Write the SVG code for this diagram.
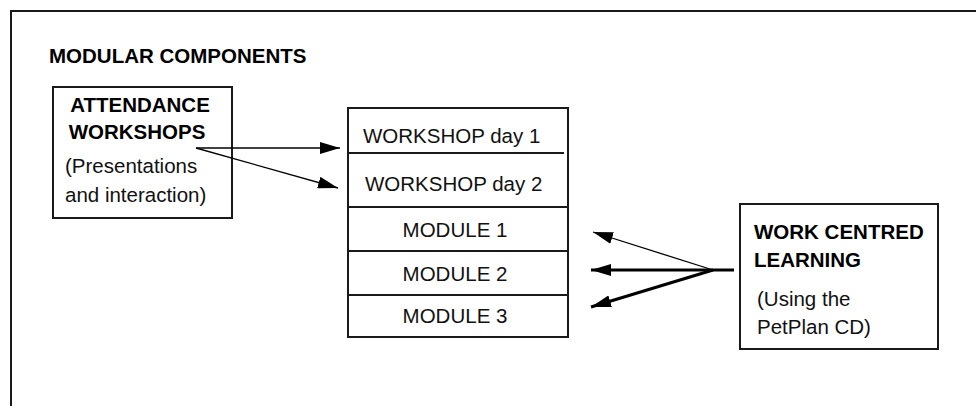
<svg xmlns="http://www.w3.org/2000/svg" width="976" height="406" viewBox="0 0 976 406">
<style>
  .box { fill: #fff; stroke: #1a1a1a; stroke-width: 2; }
  .ln { stroke: #1a1a1a; stroke-width: 2; fill: none; }
  .b { font-family: "Liberation Sans", Arial, sans-serif; font-weight: bold; font-size: 20.5px; fill: #000; }
  .r { font-family: "Liberation Sans", Arial, sans-serif; font-size: 20.5px; fill: #111; }
  .thin { stroke: #000; stroke-width: 1.3; fill: none; }
  .thick { stroke: #000; stroke-width: 3; fill: none; }
</style>
<defs>
  <marker id="ah" viewBox="0 0 20 12" refX="20" refY="6" markerWidth="20" markerHeight="12" markerUnits="userSpaceOnUse" orient="auto">
    <path d="M0,0 L20,6 L0,12 Z" fill="#000"/>
  </marker>
</defs>
<rect width="976" height="406" fill="#fff"/>
<g id="frame">
  <path class="ln" d="M11,406 V11 H976"/>
  <text class="b" x="49" y="63">MODULAR COMPONENTS</text>
</g>
<g id="attendance">
  <rect class="box" x="53" y="87" width="179" height="131"/>
  <text class="b" x="140" y="112" text-anchor="middle">ATTENDANCE</text>
  <text class="b" x="137" y="139" text-anchor="middle">WORKSHOPS</text>
  <text class="r" x="65" y="173">(Presentations</text>
  <text class="r" x="65" y="202">and interaction)</text>
</g>
<g id="stack">
  <rect class="box" x="348" y="108" width="220" height="229"/>
  <line class="ln" x1="348" y1="153" x2="564" y2="153"/>
  <line class="ln" x1="348" y1="207" x2="568" y2="207"/>
  <line class="ln" x1="348" y1="251" x2="568" y2="251"/>
  <line class="ln" x1="348" y1="295" x2="568" y2="295"/>
  <text class="r" x="363" y="143">WORKSHOP day 1</text>
  <text class="r" x="365" y="191">WORKSHOP day 2</text>
  <text class="r" x="455" y="237" text-anchor="middle">MODULE 1</text>
  <text class="r" x="455" y="281" text-anchor="middle">MODULE 2</text>
  <text class="r" x="455" y="323" text-anchor="middle">MODULE 3</text>
</g>
<g id="wcl">
  <rect class="box" x="740" y="204" width="198" height="145"/>
  <text class="b" x="754" y="239">WORK CENTRED</text>
  <text class="b" x="754" y="267">LEARNING</text>
  <text class="r" x="757" y="306">(Using the</text>
  <text class="r" x="757" y="334">PetPlan CD)</text>
</g>
<g id="connectors">
  <line class="thin" x1="196" y1="148" x2="340" y2="148" marker-end="url(#ah)"/>
  <line class="thin" x1="196" y1="148" x2="338" y2="188" marker-end="url(#ah)"/>
  <line class="thick" x1="734" y1="270" x2="713" y2="270"/>
  <line class="thin" x1="713" y1="270" x2="593" y2="232" marker-end="url(#ah)"/>
  <line class="thick" x1="713" y1="270" x2="591" y2="270" marker-end="url(#ah)"/>
  <line class="thick" x1="713" y1="270" x2="591" y2="307" marker-end="url(#ah)"/>
</g>
</svg>
